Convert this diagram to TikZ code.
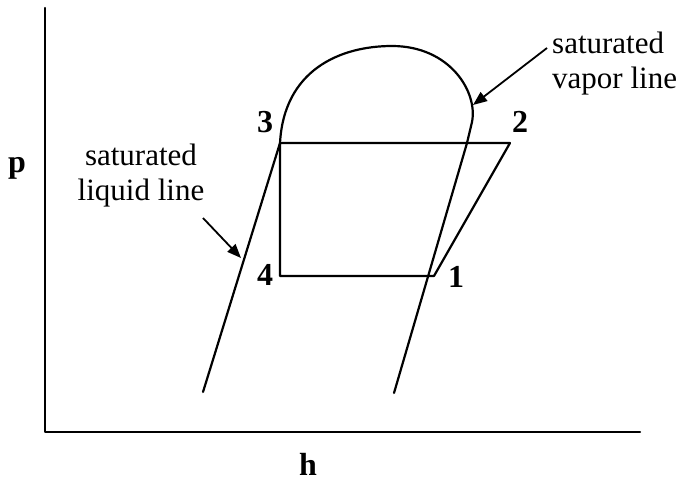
\documentclass[tikz,border=0pt]{standalone}
\usepackage{fontspec}
\setmainfont{Liberation Serif}
\usetikzlibrary{arrows.meta}
\begin{document}
\begin{tikzpicture}[x=1pt,y=-1pt,
  ln/.style={line width=2.2pt, line join=round, line cap=round},
  lbl/.style={font=\fontsize{32}{36}\selectfont\bfseries, inner sep=0pt},
  txt/.style={font=\fontsize{31}{35}\selectfont, inner sep=0pt},
  arr/.style={line width=1.8pt, -{Triangle[length=14pt,width=11pt]}}]
\useasboundingbox (0,0) rectangle (684,482);
% axes
\coordinate (O) at (45,432);
\coordinate (ytop) at (45,8);
\coordinate (xend) at (640,432);
\draw[ln] (ytop) -- (O) -- (xend);
\node[lbl, anchor=base] (p) at (17,172) {p};
\node[lbl, anchor=base] (h) at (308,475) {h};
% cycle points
\coordinate (s3) at (280,143);
\coordinate (s2) at (510,143);
\coordinate (s4) at (280,276);
\coordinate (s1) at (434,276);
\coordinate (lbot) at (203,392);
\coordinate (vbot) at (394,393);
\coordinate (vtop) at (467,143);
% saturation dome
\draw[ln] (lbot) -- (s3)
  .. controls (284,70) and (340,46) .. (392,46)
  .. controls (450,46) and (478,92) .. (472,122)
  -- (vtop) -- (vbot);
% cycle
\draw[ln] (s3) -- (s2) -- (s1) -- (s4) -- cycle;
% labels
\node[lbl, anchor=base] (n3) at (265,132) {3};
\node[lbl, anchor=base] (n2) at (520,132) {2};
\node[lbl, anchor=base] (n4) at (265,285) {4};
\node[lbl, anchor=base] (n1) at (456,287) {1};
% annotations
\node[txt, align=left, anchor=north west] (vap) at (552,32) {saturated\\vapor line};
\node[txt, align=center, anchor=north] (liq) at (141,144) {saturated\\liquid line};
\coordinate (va) at (547,48);
\coordinate (vt) at (473,105);
\draw[arr] (va) -- (vt);
\coordinate (la) at (203,218);
\coordinate (lt) at (241,258);
\draw[arr] (la) -- (lt);
\end{tikzpicture}
\end{document}
